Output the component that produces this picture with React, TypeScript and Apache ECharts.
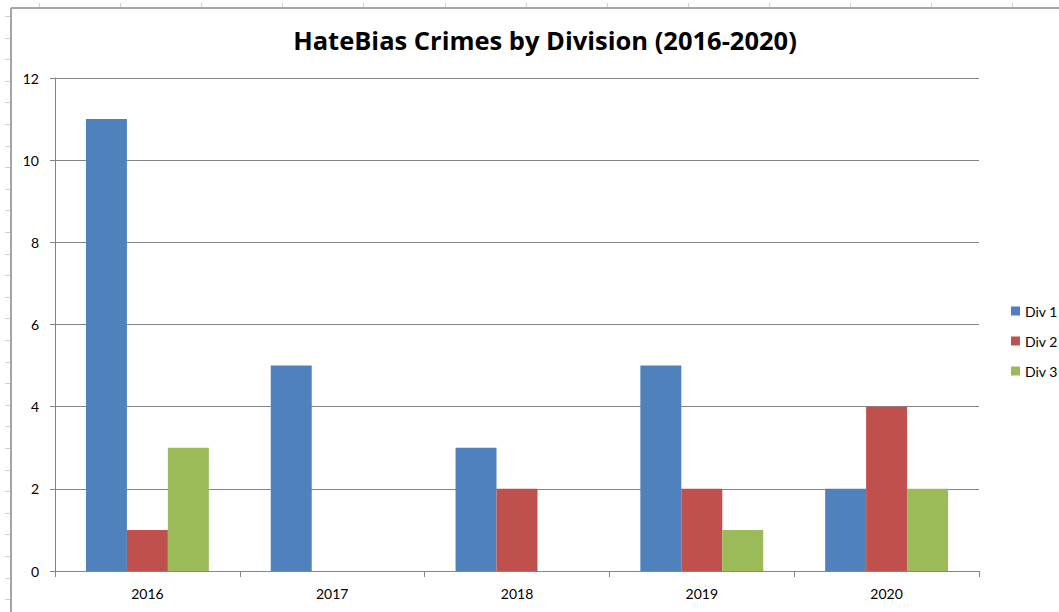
import React, { useEffect, useRef } from "react";
import * as echarts from "echarts";

const categories = ["2016", "2017", "2018", "2019", "2020"];
const div1 = [11, 5, 3, 5, 2];
const div2 = [1, 0, 2, 2, 4];
const div3 = [3, 0, 0, 1, 2];
const seriesNames = ["Div 1", "Div 2", "Div 3"];
const titleText = "HateBias Crimes by Division (2016-2020)";

const FONT = "Lato, 'Liberation Sans', sans-serif";
const TITLE_FONT = "'Open Sans', Lato, sans-serif";

export default function App() {
  const ref = useRef<HTMLDivElement>(null);
  useEffect(() => {
    document.body.style.margin = "0";
    const chart = echarts.init(ref.current!, null, { renderer: "svg" });

    const frameColor = "#a6a6a6";
    const deco: any[] = [
      { type: "line", shape: { x1: 11, y1: 8, x2: 1059, y2: 8 }, style: { stroke: frameColor, lineWidth: 2 } },
      { type: "line", shape: { x1: 11, y1: 8, x2: 11, y2: 612 }, style: { stroke: frameColor, lineWidth: 2 } },
    ];
    for (let k = 0; k < 28; k++) {
      const y = Math.round(16 + 21.6 * k) + 0.5;
      deco.push({ type: "line", shape: { x1: 5, y1: y, x2: 10, y2: y }, style: { stroke: "#d0d0d0", lineWidth: 1 } });
    }
    for (let k = 0; k < 13; k++) {
      const x = Math.round(39 + 81.1 * k) + 0.5;
      deco.push({ type: "line", shape: { x1: x, y1: 3, x2: x, y2: 7 }, style: { stroke: "#d0d0d0", lineWidth: 1 } });
    }

    chart.setOption({
      animation: false,
      backgroundColor: "#ffffff",
      title: {
        text: titleText,
        left: 540,
        textAlign: "center",
        top: 22,
        textStyle: { fontFamily: TITLE_FONT, fontSize: 25.5, fontWeight: "bold", color: "#000" },
      },
      legend: {
        orient: "vertical",
        left: 1006,
        top: 299,
        itemWidth: 9,
        itemHeight: 9,
        itemGap: 16,
        icon: "rect",
        textStyle: { fontFamily: FONT, fontSize: 14, color: "#000" },
        data: seriesNames,
      },
      grid: { left: 55, right: 80, top: 78, bottom: 41 },
      xAxis: {
        type: "category",
        data: categories,
        axisLine: { lineStyle: { color: "#868686", width: 1 } },
        axisTick: { show: true, length: 6, lineStyle: { color: "#868686" } },
        axisLabel: { fontFamily: FONT, fontSize: 14, color: "#000", margin: 15 },
      },
      yAxis: {
        type: "value",
        min: 0,
        max: 12,
        interval: 2,
        axisLine: { show: true, lineStyle: { color: "#868686", width: 1 } },
        axisTick: { show: true, length: 5, lineStyle: { color: "#868686" } },
        axisLabel: { fontFamily: FONT, fontSize: 14, color: "#000", margin: 16 },
        splitLine: { lineStyle: { color: "#868686", width: 1 } },
      },
      series: [
        { name: seriesNames[0], type: "bar", data: div1, itemStyle: { color: "#4F81BD" }, barGap: "0%", barCategoryGap: "33.5%" },
        { name: seriesNames[1], type: "bar", data: div2, itemStyle: { color: "#C0504D" }, barGap: "0%", barCategoryGap: "33.5%" },
        { name: seriesNames[2], type: "bar", data: div3, itemStyle: { color: "#9BBB59" }, barGap: "0%", barCategoryGap: "33.5%" },
      ],
      graphic: deco,
    });
    return () => chart.dispose();
  }, []);
  return <div ref={ref} style={{ position: "fixed", left: 0, top: 0, width: 1059, height: 612 }} />;
}
